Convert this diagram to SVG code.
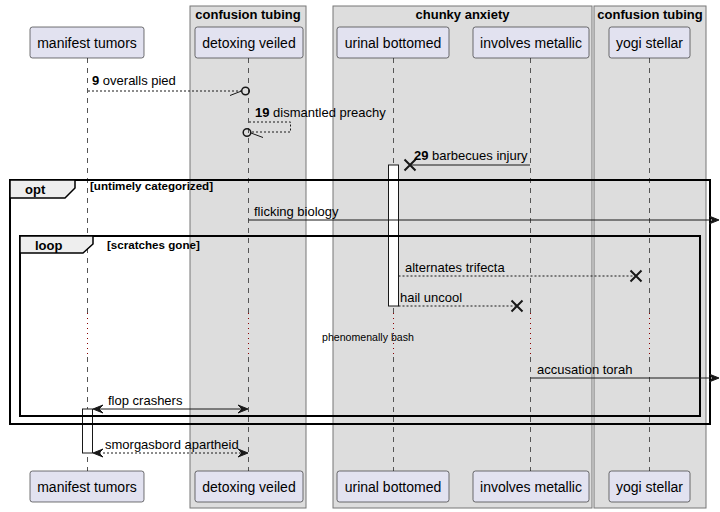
<svg xmlns="http://www.w3.org/2000/svg" width="720" height="512" viewBox="0 0 720 512">
<style>
.grp{fill:#DDDDDD;stroke:#777777;stroke-width:1}
.gt{font-family:"Liberation Sans",Arial,sans-serif;font-size:13px;font-weight:bold;fill:#000;text-anchor:middle}
.pb{fill:#E2E2F0;stroke:#181818;stroke-width:0.6}
.pt{font-family:"Liberation Sans",Arial,sans-serif;font-size:14px;fill:#000;text-anchor:middle}
.ll{stroke:#555555;stroke-width:1;stroke-dasharray:5,5;fill:none}
.dl{stroke:#8B0000;stroke-width:1;stroke-dasharray:1,4;fill:none}
.m{font-family:"Liberation Sans",Arial,sans-serif;font-size:13px;fill:#000}
.dt{font-family:"Liberation Sans",Arial,sans-serif;font-size:10.6px;fill:#000;text-anchor:middle}
.mb{font-weight:bold}
.s{stroke:#181818;stroke-width:1;fill:none}
.d{stroke:#181818;stroke-width:1;fill:none;stroke-dasharray:2,2}
.ah{fill:#181818;stroke:#181818;stroke-width:1}
.x{stroke:#181818;stroke-width:2}
.fr{fill:none;stroke:#000;stroke-width:2}
.tab{fill:#EEEEEE;stroke:#000;stroke-width:1.5}
.ft{font-family:"Liberation Sans",Arial,sans-serif;font-size:13px;font-weight:bold;fill:#000}
.gd{font-family:"Liberation Sans",Arial,sans-serif;font-size:11.6px;font-weight:bold;fill:#000}
.act{fill:#FFFFFF;stroke:#181818;stroke-width:1}
</style>
<g id="box-confusion-tubing-1"><rect class="grp" x="190" y="6" width="116" height="502"/><text class="gt" x="248" y="19">confusion tubing</text></g>
<g id="box-chunky-anxiety"><rect class="grp" x="333" y="6" width="259" height="502"/><text class="gt" x="462.5" y="19">chunky anxiety</text></g>
<g id="box-confusion-tubing-2"><rect class="grp" x="594" y="6" width="112" height="502"/><text class="gt" x="650" y="19">confusion tubing</text></g>
<g id="lifelines">
<path class="ll" d="M87.5,58 V313 M87.5,357 V471"/><path class="dl" d="M87.5,313 V357"/>
<path class="ll" d="M248.5,58 V313 M248.5,357 V471"/><path class="dl" d="M248.5,313 V357"/>
<path class="ll" d="M393.5,58 V313 M393.5,357 V471"/><path class="dl" d="M393.5,313 V357"/>
<path class="ll" d="M530.5,58 V313 M530.5,357 V471"/><path class="dl" d="M530.5,313 V357"/>
<path class="ll" d="M649.5,58 V313 M649.5,357 V471"/><path class="dl" d="M649.5,313 V357"/>
</g>
<g id="manifest-tumors"><rect class="pb" x="30" y="27" width="114" height="31" rx="2.5"/><text class="pt" x="87" y="47.5">manifest tumors</text><rect class="pb" x="30" y="471" width="114" height="31" rx="2.5"/><text class="pt" x="87" y="491.5">manifest tumors</text></g>
<g id="detoxing-veiled"><rect class="pb" x="195" y="27" width="108" height="31" rx="2.5"/><text class="pt" x="249" y="47.5">detoxing veiled</text><rect class="pb" x="195" y="471" width="108" height="31" rx="2.5"/><text class="pt" x="249" y="491.5">detoxing veiled</text></g>
<g id="urinal-bottomed"><rect class="pb" x="337" y="27" width="112" height="31" rx="2.5"/><text class="pt" x="393" y="47.5">urinal bottomed</text><rect class="pb" x="337" y="471" width="112" height="31" rx="2.5"/><text class="pt" x="393" y="491.5">urinal bottomed</text></g>
<g id="involves-metallic"><rect class="pb" x="473" y="27" width="116" height="31" rx="2.5"/><text class="pt" x="531" y="47.5">involves metallic</text><rect class="pb" x="473" y="471" width="116" height="31" rx="2.5"/><text class="pt" x="531" y="491.5">involves metallic</text></g>
<g id="yogi-stellar"><rect class="pb" x="609" y="27" width="81" height="31" rx="2.5"/><text class="pt" x="649.5" y="47.5">yogi stellar</text><rect class="pb" x="609" y="471" width="81" height="31" rx="2.5"/><text class="pt" x="649.5" y="491.5">yogi stellar</text></g>
<g id="activations">
<rect class="act" x="388.5" y="165" width="10" height="141"/>
<rect class="act" x="82.5" y="409" width="10" height="44"/>
</g>
<g id="fragments">
<rect class="fr" x="10" y="180" width="700" height="244"/>
<path class="tab" d="M10,180 H75 V188 L65,198 H10 Z"/>
<text class="ft" x="25" y="194">opt</text>
<text class="gd" x="90" y="190">[untimely categorized]</text>
<rect class="fr" x="20" y="236" width="680" height="180"/>
<path class="tab" d="M20,236 H93 V244 L83,253 H20 Z"/>
<text class="ft" x="35" y="250">loop</text>
<text class="gd" x="107" y="249">[scratches gone]</text>
</g>
<g id="connectors">
<line class="d" x1="88" y1="91" x2="241.5" y2="91"/>
<line class="s" x1="230" y1="95.5" x2="241.5" y2="91"/>
<circle cx="245.5" cy="91" r="3.8" fill="none" stroke="#181818" stroke-width="1.5"/>
<text class="m" x="92" y="85"><tspan class="mb">9</tspan> overalls pied</text>
<path class="d" d="M249,122 H290.5 V132 H251"/>
<line class="s" x1="251" y1="133" x2="263" y2="137.5"/>
<circle cx="247" cy="132.5" r="3.8" fill="none" stroke="#181818" stroke-width="1.5"/>
<text class="m" x="255" y="117"><tspan class="mb">19</tspan> dismantled preachy</text>
<line class="s" x1="530" y1="165" x2="410" y2="165"/>
<path class="x" d="M404.5,159.5 L415.5,170.5 M415.5,159.5 L404.5,170.5"/>
<text class="m" x="414" y="159.5"><tspan class="mb">29</tspan> barbecues injury</text>
<line class="s" x1="248.5" y1="220" x2="716" y2="220"/>
<polygon class="ah" points="719,220 709,216 713,220 709,224"/>
<text class="m" x="254" y="216">flicking biology</text>
<line class="d" x1="398.5" y1="276" x2="636" y2="276"/>
<path class="x" d="M630.5,270.5 L641.5,281.5 M641.5,270.5 L630.5,281.5"/>
<text class="m" x="405" y="272">alternates trifecta</text>
<line class="d" x1="398.5" y1="306" x2="517" y2="306"/>
<path class="x" d="M511.5,300.5 L522.5,311.5 M522.5,300.5 L511.5,311.5"/>
<text class="m" x="400" y="301.5">hail uncool</text>
<text class="dt" x="368" y="340.5">phenomenally bash</text>
<line class="s" x1="530.5" y1="378" x2="716" y2="378"/>
<polygon class="ah" points="719,378 709,374 713,378 709,382"/>
<text class="m" x="537" y="373.5">accusation torah</text>
<line class="s" x1="95" y1="409" x2="246" y2="409"/>
<polygon class="ah" points="93,409 103,405 99,409 103,413"/>
<polygon class="ah" points="248,409 238,405 242,409 238,413"/>
<text class="m" x="108" y="404.5">flop crashers</text>
<line class="d" x1="95" y1="453" x2="246" y2="453"/>
<polygon class="ah" points="93,453 103,449 99,453 103,457"/>
<polygon class="ah" points="248,453 238,449 242,453 238,457"/>
<text class="m" x="105" y="448.5">smorgasbord apartheid</text>
</g>
</svg>
